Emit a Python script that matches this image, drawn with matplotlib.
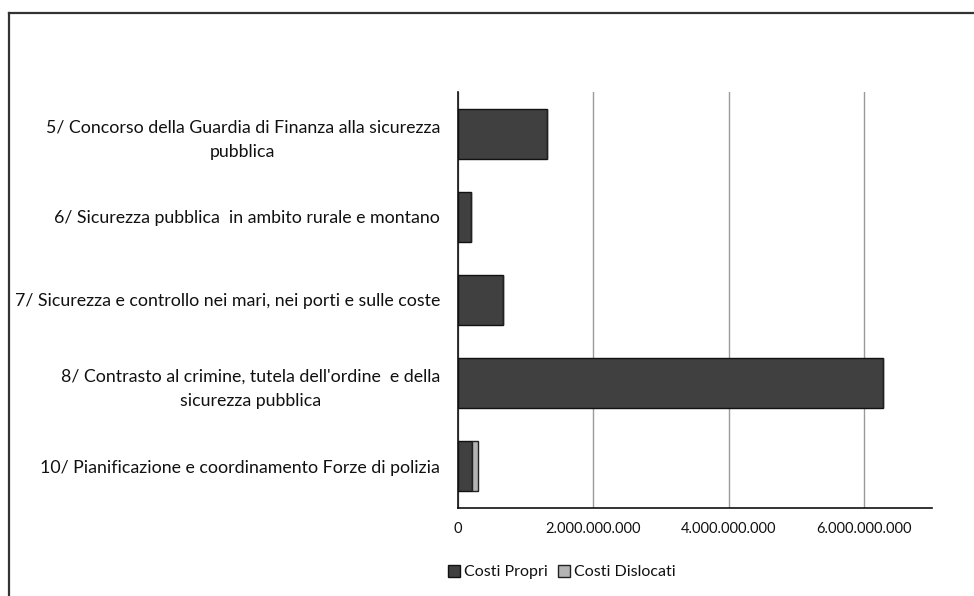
import matplotlib
matplotlib.use("Agg")
import matplotlib.pyplot as plt
from matplotlib.lines import Line2D
from matplotlib.ticker import FuncFormatter

plt.rcParams['font.family'] = ['Lato', 'DejaVu Sans']

# dati
categorie = [
    "5/ Concorso della Guardia di Finanza alla sicurezza\npubblica",
    "6/ Sicurezza pubblica  in ambito rurale e montano",
    "7/ Sicurezza e controllo nei mari, nei porti e sulle coste",
    "8/ Contrasto al crimine, tutela dell'ordine  e della\nsicurezza pubblica",
    "10/ Pianificazione e coordinamento Forze di polizia",
]
costi_propri = [1.31e9, 0.19e9, 0.66e9, 6.27e9, 0.21e9]
costi_dislocati = [0.0, 0.0, 0.0, 0.0, 0.08e9]
serie = ["Costi Propri", "Costi Dislocati"]

fig = plt.figure(figsize=(9.74, 5.96), dpi=100)
ax = fig.add_axes([0.4702, 0.1477, 0.4867, 0.6979])

y = list(range(len(categorie)))
ax.barh(y, costi_propri, height=0.6, color='#404040', edgecolor='#111111', lw=1, label=serie[0], zorder=3)
ax.barh(y, costi_dislocati, left=costi_propri, height=0.6, color='#b4b4b4', edgecolor='#222222', lw=1,
        label=serie[1], zorder=3)

ax.set_ylim(len(categorie) - 0.5, -0.5)
ax.set_xlim(0, 7e9)
ax.set_yticks(y)
ax.set_yticklabels(categorie, fontsize=12.8, ha='right', multialignment='center', color='#111111',
                   linespacing=1.65)
ax.set_xticks([0, 2e9, 4e9, 6e9])
ax.xaxis.set_major_formatter(FuncFormatter(lambda v, p: f"{v:,.0f}".replace(",", ".")))
ax.tick_params(axis='x', length=0, pad=10, labelsize=10.5, labelcolor='#111111')
ax.tick_params(axis='y', length=0, pad=13)

ax.grid(axis='x', color='#9a9a9a', lw=1, zorder=0)
for s in ['top', 'right']:
    ax.spines[s].set_visible(False)
ax.spines['left'].set_color('#111111')
ax.spines['bottom'].set_color('#111111')
ax.spines['left'].set_linewidth(1.2)
ax.spines['bottom'].set_linewidth(1.2)

ax.legend(loc='center', bbox_to_anchor=(0.219, -0.154), ncol=2, frameon=False, fontsize=11.5,
          handlelength=0.75, handleheight=0.75, handletextpad=0.3, columnspacing=0.6,
          labelcolor='#111111')

# cornice esterna
fig.add_artist(Line2D([9 / 974, 9 / 974], [0, 1 - 13 / 596], color='#333333', lw=1.6))
fig.add_artist(Line2D([9 / 974, 1], [1 - 13 / 596, 1 - 13 / 596], color='#333333', lw=1.6))

fig.savefig("out.png", dpi=100)
